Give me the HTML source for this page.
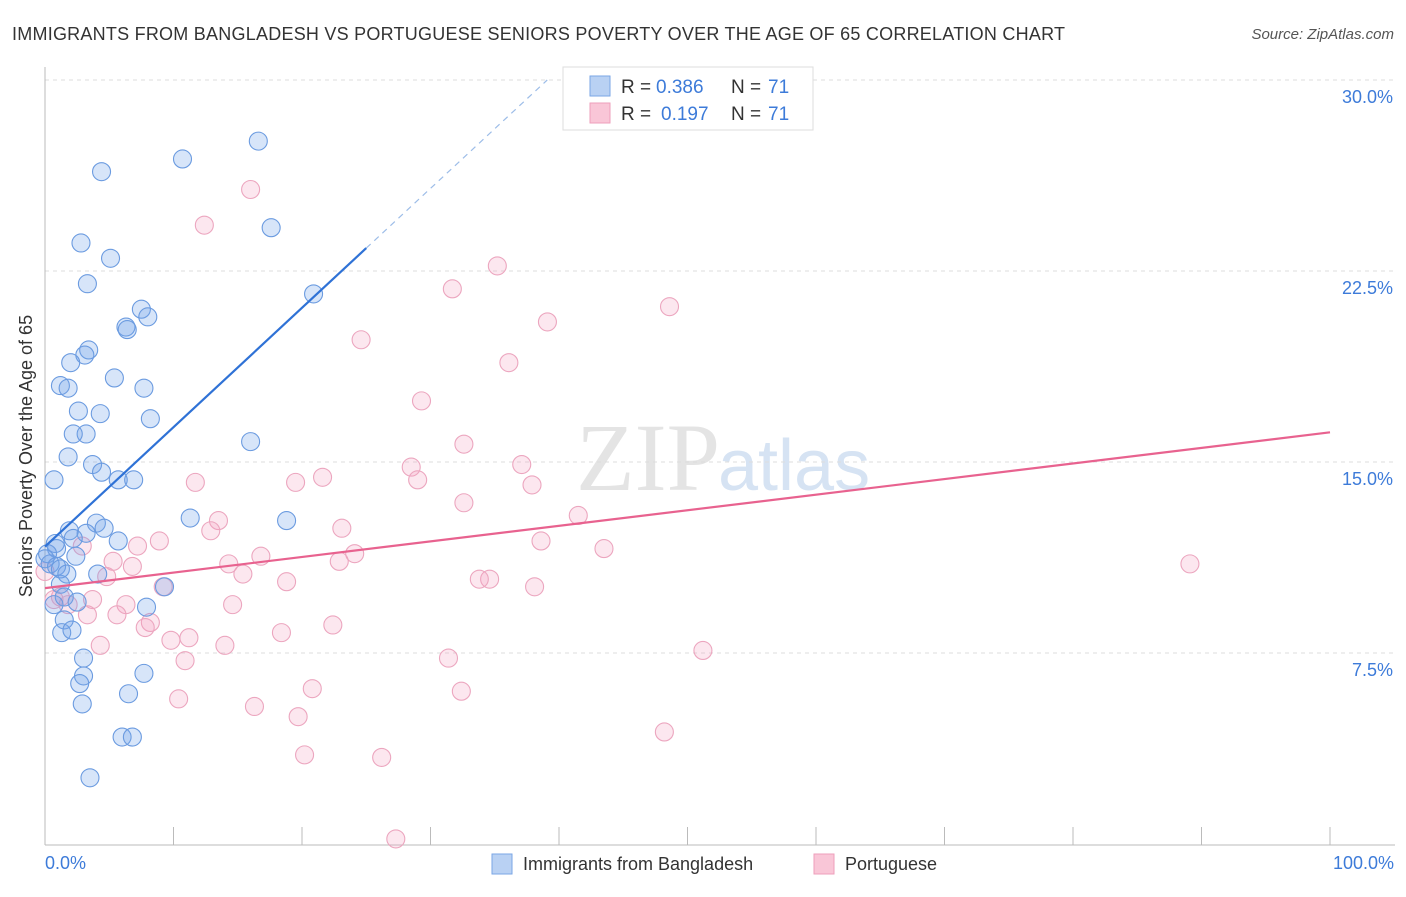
<!DOCTYPE html>
<html><head><meta charset="utf-8"><style>
body{margin:0;background:#fff;font-family:"Liberation Sans",sans-serif}
</style></head><body>
<svg id="chart" width="1406" height="892" xmlns="http://www.w3.org/2000/svg">
<text x="12" y="40" font-size="18" fill="#333" textLength="1053" lengthAdjust="spacing">IMMIGRANTS FROM BANGLADESH VS PORTUGUESE SENIORS POVERTY OVER THE AGE OF 65 CORRELATION CHART</text>
<text x="1394" y="39" font-size="15" fill="#555" text-anchor="end" font-style="italic">Source: ZipAtlas.com</text>
<text x="720" y="490" font-size="96" fill="#e4e4e4" text-anchor="end" font-family="Liberation Serif">ZIP</text>
<text x="718" y="490" font-size="72" fill="#d6e3f3">atlas</text>
<g id="grid"></g>
<g id="axes"></g>
<g id="pts"></g>
<g id="lines"></g>
<text x="32" y="456" font-size="18" fill="#333" text-anchor="middle" transform="rotate(-90 32 456)">Seniors Poverty Over the Age of 65</text>
<text x="45" y="869" font-size="18" fill="#3d7bd9">0.0%</text>
<text x="1394" y="869" font-size="18" fill="#3d7bd9" text-anchor="end">100.0%</text>
<g>
<rect x="563" y="67" width="250" height="63" fill="#fff" stroke="#ddd"/>
<rect x="590" y="76" width="20" height="20" fill="#b9d1f3" stroke="#7aa6e6"/>
<rect x="590" y="103" width="20" height="20" fill="#f9c6d7" stroke="#ee9fbb"/>
<text x="621" y="93" font-size="19" fill="#333">R =</text>
<text x="656" y="93" font-size="19" fill="#3d7bd9">0.386</text>
<text x="731" y="93" font-size="19" fill="#333">N =</text>
<text x="768" y="93" font-size="19" fill="#3d7bd9">71</text>
<text x="621" y="120" font-size="19" fill="#333">R =</text>
<text x="661" y="120" font-size="19" fill="#3d7bd9">0.197</text>
<text x="731" y="120" font-size="19" fill="#333">N =</text>
<text x="768" y="120" font-size="19" fill="#3d7bd9">71</text>
</g>
<g>
<rect x="492" y="854" width="20" height="20" fill="#b9d1f3" stroke="#7aa6e6"/>
<text x="523" y="870" font-size="18" fill="#333">Immigrants from Bangladesh</text></g>
<g>
<rect x="814" y="854" width="20" height="20" fill="#f9c6d7" stroke="#ee9fbb"/>
<text x="845" y="870" font-size="18" fill="#333">Portuguese</text></g>
</svg>
<script>
const yTicks=[7.5,15,22.5,30];
const yTickLabels=["7.5%","15.0%","22.5%","30.0%"];
const xTicks=[0,10,20,30,40,50,60,70,80,90,100];
const blueX=[16.6,10.7,4.4,17.6,2.8,5.1,3.3,20.9,7.5,8.0,6.3,6.4,3.4,3.1,2.0,5.4,1.2,1.8,7.7,2.6,4.3,8.2,3.2,2.2,16.0,1.8,3.7,4.4,0.7,5.7,6.9,11.3,18.8,4.0,4.6,1.9,3.2,2.2,5.7,0.8,0.9,0.2,2.4,0,0.4,0.9,1.2,1.7,4.1,1.2,9.3,1.5,2.5,0.7,7.9,1.5,1.3,2.1,3.0,7.7,3.0,2.7,6.5,2.9,6.0,6.8,3.5];
const blueY=[27.6,26.9,26.4,24.2,23.6,23.0,22.0,21.6,21.0,20.7,20.3,20.2,19.4,19.2,18.9,18.3,18.0,17.9,17.9,17.0,16.9,16.7,16.1,16.1,15.8,15.2,14.9,14.6,14.3,14.3,14.3,12.8,12.7,12.6,12.4,12.3,12.2,12.0,11.9,11.8,11.6,11.4,11.3,11.2,11.0,10.9,10.8,10.6,10.6,10.2,10.1,9.7,9.5,9.4,9.3,8.8,8.3,8.4,7.3,6.7,6.6,6.3,5.9,5.5,4.2,4.2,2.6];
const pinkX=[16.0,12.4,35.2,31.7,48.6,39.1,24.6,36.1,29.3,32.6,37.1,28.5,29.0,21.6,19.5,37.9,11.7,32.6,41.5,13.5,12.9,23.1,38.6,8.9,7.2,2.9,43.5,24.1,16.8,22.9,5.3,14.3,6.8,89.1,15.4,4.8,34.6,33.8,18.8,38.1,9.2,1.2,3.7,6.3,14.6,1.8,5.6,3.3,8.2,22.4,7.8,18.4,9.8,11.2,14.0,4.3,51.2,10.9,31.4,32.4,20.8,10.4,16.3,19.7,48.2,20.2,26.2,27.3,0.7,0];
const pinkY=[25.7,24.3,22.7,21.8,21.1,20.5,19.8,18.9,17.4,15.7,14.9,14.8,14.3,14.4,14.2,14.1,14.2,13.4,12.9,12.7,12.3,12.4,11.9,11.9,11.7,11.7,11.6,11.4,11.3,11.1,11.1,11.0,10.9,11.0,10.6,10.5,10.4,10.4,10.3,10.1,10.1,9.7,9.6,9.4,9.4,9.4,9.0,9.0,8.7,8.6,8.5,8.3,8.0,8.1,7.8,7.8,7.6,7.2,7.3,6.0,6.1,5.7,5.4,5.0,4.4,3.5,3.4,0.2,9.6,10.7];
const NS="http://www.w3.org/2000/svg";
const xs=v=>45+v*12.85;
const ys=v=>844-v*191/7.5;
function mk(tag,attrs,parent){const e=document.createElementNS(NS,tag);for(const k in attrs)e.setAttribute(k,attrs[k]);document.getElementById(parent).appendChild(e);return e;}
yTicks.forEach((t,i)=>{
 const g=mk('line',{x1:45,x2:1395,y1:ys(t),y2:ys(t),stroke:'#ddd','stroke-dasharray':'4,4'},'grid');
 
 
 const l=mk('text',{x:1393,y:ys(t)+23,'font-size':18,fill:'#3d7bd9','text-anchor':'end'},'grid');
 l.textContent=yTickLabels[i];
 
 
});
const ax=mk('line',{x1:45,x2:45,y1:67,y2:845,stroke:'#bbb'},'axes');


const bx=mk('line',{x1:45,x2:1395,y1:845,y2:845,stroke:'#bbb'},'axes');


xTicks.forEach(t=>{
 const tk=mk('line',{x1:xs(t),x2:xs(t),y1:827,y2:845,stroke:'#bbb'},'axes');
 
 
});
function pts(X,Y,fill,stroke,name){
 X.forEach((x,i)=>{
  const c=mk('circle',{cx:xs(x),cy:ys(Y[i]),r:9,fill:fill,stroke:stroke,'stroke-width':1.1},'pts');
  
  
 });
}
pts(pinkX,pinkY,'rgba(244,160,190,0.25)','#eca6bf','portuguese-point');
pts(blueX,blueY,'rgba(110,160,235,0.28)','#6b9be0','bangladesh-point');
function reg(X,Y){const n=X.length;let mx=0,my=0;X.forEach((x,i)=>{mx+=x;my+=Y[i]});mx/=n;my/=n;let sxy=0,sxx=0;X.forEach((x,i)=>{sxy+=(x-mx)*(Y[i]-my);sxx+=(x-mx)*(x-mx)});const b=sxy/sxx;return [my-b*mx,b];}
const [ba,bb]=reg(blueX,blueY);
const bEnd=25;
const l1=mk('line',{x1:xs(0),y1:ys(ba),x2:xs(bEnd),y2:ys(ba+bb*bEnd),stroke:'#2f72d6','stroke-width':2.2},'lines');


const xTop=(30-ba)/bb;
const l2=mk('line',{x1:xs(bEnd),y1:ys(ba+bb*bEnd),x2:xs(xTop),y2:ys(30),stroke:'#9dbde8','stroke-width':1.2,'stroke-dasharray':'6,5'},'lines');


const [pa,pb]=reg(pinkX,pinkY);
const l3=mk('line',{x1:xs(0),y1:ys(pa),x2:xs(100),y2:ys(pa+pb*100),stroke:'#e8628f','stroke-width':2.2},'lines');


</script>
</body></html>
